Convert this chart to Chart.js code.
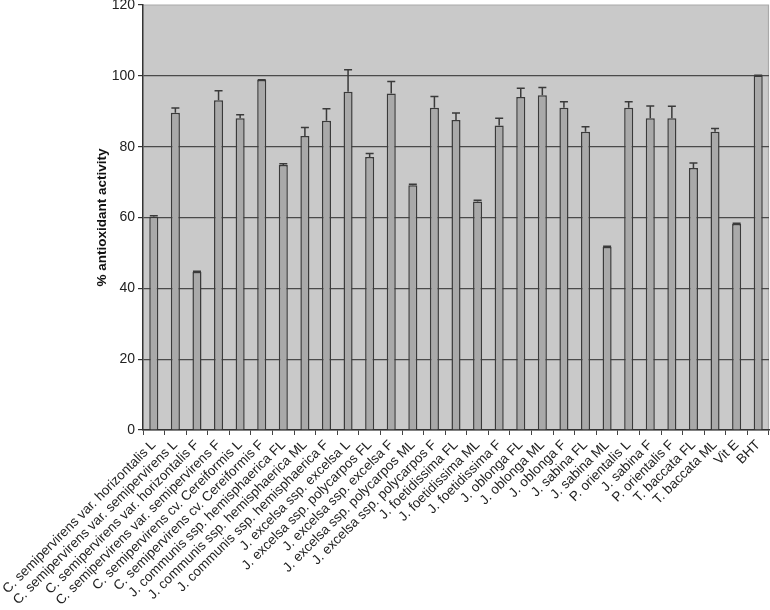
<!DOCTYPE html>
<html>
<head>
<meta charset="utf-8">
<script src="https://cdn.jsdelivr.net/npm/chart.js@4/dist/chart.umd.min.js"></script>
<style>
html,body{margin:0;padding:0;background:#fff;}
#wrap{width:770px;height:610px;position:relative;}
</style>
</head>
<body>
<div id="wrap"><canvas id="c" width="770" height="610"></canvas></div>
<script>
const categories = [
  "C. semipervirens var. horizontalis L",
  "C. semipervirens var. semipervirens L",
  "C. semipervirens var. horizontalis F",
  "C. semipervirens var. semipervirens F",
  "C. semipervirens cv. Cereiformis L",
  "C. semipervirens cv. Cereiformis F",
  "J. communis ssp. hemisphaerica FL",
  "J. communis ssp. hemisphaerica ML",
  "J. communis ssp. hemisphaerica F",
  "J. excelsa ssp. excelsa L",
  "J. excelsa ssp. polycarpos FL",
  "J. excelsa ssp. excelsa F",
  "J. excelsa ssp. polycarpos ML",
  "J. excelsa ssp. polycarpos F",
  "J. foetidissima FL",
  "J. foetidissima ML",
  "J. foetidissima F",
  "J. oblonga FL",
  "J. oblonga ML",
  "J. oblonga F",
  "J. sabina FL",
  "J. sabina ML",
  "P. orientalis L",
  "J. sabina F",
  "P. orientalis F",
  "T. baccata FL",
  "T. baccata ML",
  "Vit E",
  "BHT"
];
const activity = [60.2, 89.6, 44.6, 93.1, 88.0, 98.8, 74.8, 83.0, 87.3, 95.5,
                  77.1, 95.0, 69.1, 91.0, 87.5, 64.5, 86.0, 94.0, 94.5, 91.0,
                  84.2, 51.7, 91.0, 88.0, 88.0, 74.0, 84.2, 58.2, 100.1];
const errors = [0.3, 1.3, 0.2, 2.7, 1.0, 0.1, 0.4, 2.4, 3.4, 6.2,
                1.0, 3.4, 0.3, 3.2, 2.0, 0.4, 2.0, 2.5, 2.2, 1.7,
                1.4, 0.2, 1.7, 3.5, 3.4, 1.4, 0.9, 0.2, 0.1];
const yTicks = [0, 20, 40, 60, 80, 100, 120];

const FONT = "'Liberation Sans', Arial, sans-serif";

const plotBg = {
  id: 'plotBg',
  beforeDraw(chart) {
    const a = chart.chartArea, ctx = chart.ctx;
    ctx.save();
    ctx.fillStyle = '#c9c9c9';
    ctx.fillRect(a.left, a.top, a.right - a.left, a.bottom - a.top);
    ctx.strokeStyle = '#a9a9a9';
    ctx.lineWidth = 1.2;
    ctx.beginPath();
    ctx.moveTo(a.left, a.top);
    ctx.lineTo(a.right - 0.5, a.top);
    ctx.lineTo(a.right - 0.5, a.bottom);
    ctx.stroke();
    ctx.restore();
  }
};

const errorBars = {
  id: 'errorBars',
  afterDatasetsDraw(chart) {
    const ctx = chart.ctx, y = chart.scales.y;
    const meta = chart.getDatasetMeta(0);
    ctx.save();
    ctx.strokeStyle = '#3a3a3a';
    ctx.lineWidth = 1.5;
    meta.data.forEach((bar, i) => {
      const v = activity[i], e = errors[i];
      const y0 = y.getPixelForValue(v);
      const y1 = y.getPixelForValue(v + e);
      ctx.beginPath();
      ctx.moveTo(bar.x, y0);
      ctx.lineTo(bar.x, y1);
      ctx.moveTo(bar.x - 4, y1);
      ctx.lineTo(bar.x + 4, y1);
      ctx.stroke();
    });
    ctx.restore();
  }
};

new Chart(document.getElementById('c'), {
  type: 'bar',
  data: {
    labels: categories,
    datasets: [{
      data: activity,
      backgroundColor: '#a9a9a9',
      borderColor: '#3a3a3a',
      borderWidth: 1.5,
      categoryPercentage: 1,
      barPercentage: 0.42
    }]
  },
  options: {
    responsive: false,
    animation: false,
    devicePixelRatio: 1,
    layout: { padding: { top: 5, right: 1, left: 94, bottom: 0 } },
    plugins: { legend: { display: false }, tooltip: { enabled: false } },
    scales: {
      x: {
        grid: { display: true, drawOnChartArea: false, drawTicks: true, tickLength: 5, color: '#444', offset: true },
        border: { display: true, color: '#333', width: 1.5 },
        ticks: {
          autoSkip: false, maxRotation: 45, minRotation: 45,
          color: '#222', font: { family: FONT, size: 13.5 }, padding: 2
        },
        afterFit(scale) { scale.height = 180; scale.paddingLeft = 0; scale.paddingRight = 0; }
      },
      y: {
        min: 0, max: 120,
        afterBuildTicks(scale) { scale.ticks = yTicks.map(v => ({ value: v })); },
        grid: {
          color: ctx => (ctx.tick && ctx.tick.value === 120) ? 'rgba(0,0,0,0)' : '#4a4a4a',
          lineWidth: 1.2, tickLength: 5, drawTicks: true,
          tickColor: '#333'
        },
        border: { display: true, color: '#333', width: 1.5 },
        ticks: { color: '#222', font: { family: FONT, size: 14 }, padding: 3 },
        title: {
          display: true, text: '% antioxidant activity',
          color: '#111', font: { family: FONT, size: 13.5, weight: 'bold' }, padding: { top: 0, bottom: 0 }
        },
        afterFit(scale) { scale.width = 49; scale.paddingTop = 0; scale.paddingBottom = 0; }
      }
    }
  },
  plugins: [plotBg, errorBars]
});
</script>
</body>
</html>
